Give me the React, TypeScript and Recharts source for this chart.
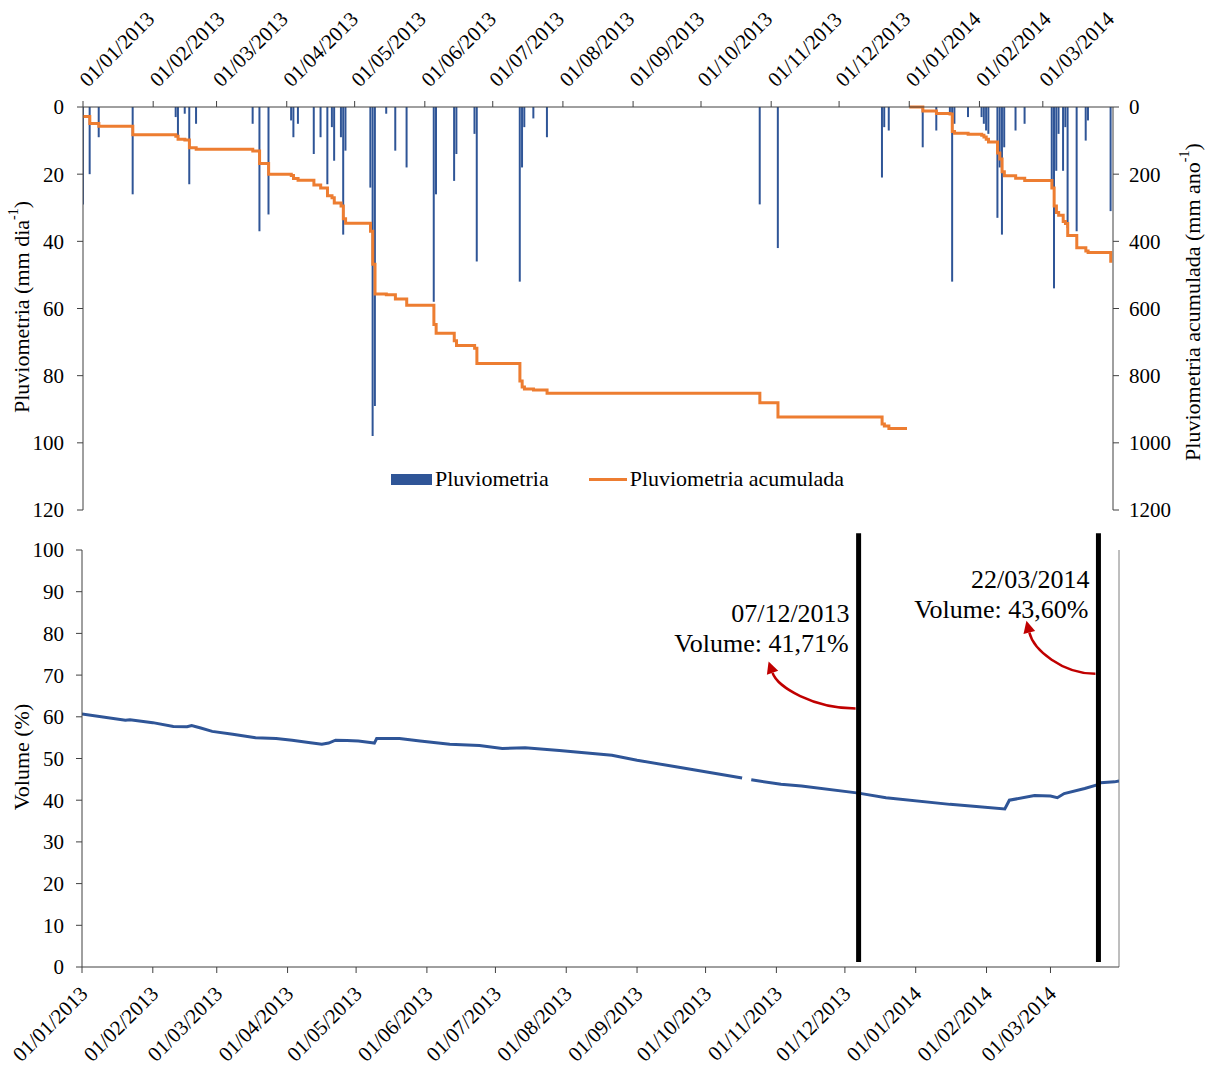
import {
  Bar,
  ComposedChart,
  Legend,
  Line,
  LineChart,
  ReferenceDot,
  ReferenceLine,
  XAxis,
  YAxis,
} from 'recharts';

const FONT = '"Liberation Serif", "Times New Roman", Times, serif';
const BLUE = '#2F5597';
const ORANGE = '#ED7D31';
const RED = '#C00000';
const AXIS = '#404040';

// month ticks shared by both panels
const MONTH_TICKS = [
  '2013-01-01', '2013-02-01', '2013-03-01', '2013-04-01', '2013-05-01', '2013-06-01', '2013-07-01', '2013-08-01',
  '2013-09-01', '2013-10-01', '2013-11-01', '2013-12-01', '2014-01-01', '2014-02-01', '2014-03-01',
];

const RAIN_TICKS = [0, 20, 40, 60, 80, 100, 120];
const ACC_TICKS = [0, 200, 400, 600, 800, 1000, 1200];
const VOLUME_TICKS = [0, 10, 20, 30, 40, 50, 60, 70, 80, 90, 100];

// daily rainfall (mm dia-1), only rainy days
const RAIN_2013: [string, number][] = [
  ['2013-01-01', 29], ['2013-01-04', 20], ['2013-01-08', 9], ['2013-01-23', 26],
  ['2013-02-11', 3], ['2013-02-12', 9], ['2013-02-15', 2], ['2013-02-17', 23], ['2013-02-20', 5],
  ['2013-03-17', 5], ['2013-03-20', 37], ['2013-03-24', 32],
  ['2013-04-03', 4], ['2013-04-04', 9], ['2013-04-06', 5], ['2013-04-13', 14], ['2013-04-16', 9],
  ['2013-04-19', 23], ['2013-04-21', 6], ['2013-04-22', 16], ['2013-04-25', 9], ['2013-04-26', 38], ['2013-04-27', 13],
  ['2013-05-08', 24], ['2013-05-09', 98], ['2013-05-10', 89], ['2013-05-15', 2], ['2013-05-19', 13], ['2013-05-24', 18],
  ['2013-06-05', 58], ['2013-06-06', 26], ['2013-06-14', 22], ['2013-06-15', 14], ['2013-06-23', 8], ['2013-06-24', 46],
  ['2013-07-13', 52], ['2013-07-14', 18], ['2013-07-15', 6], ['2013-07-19', 3.4], ['2013-07-25', 9],
  ['2013-10-27', 29], ['2013-11-04', 42],
  ['2013-12-20', 21], ['2013-12-21', 6], ['2013-12-23', 7],
];

const RAIN_2014: [string, number][] = [
  ['2014-01-07', 12], ['2014-01-13', 7], ['2014-01-19', 2], ['2014-01-20', 52], ['2014-01-21', 5], ['2014-01-27', 3],
  ['2014-02-02', 3], ['2014-02-03', 5], ['2014-02-04', 7], ['2014-02-05', 8],
  ['2014-02-09', 33], ['2014-02-10', 18], ['2014-02-11', 38], ['2014-02-12', 12], ['2014-02-17', 7], ['2014-02-21', 5],
  ['2014-03-05', 22], ['2014-03-06', 54], ['2014-03-07', 19], ['2014-03-08', 8], ['2014-03-10', 19], ['2014-03-11', 6],
  ['2014-03-12', 36], ['2014-03-16', 37], ['2014-03-20', 10], ['2014-03-21', 4], ['2014-03-31', 31],
];

// accumulated rainfall (mm ano-1), read at each step
const ACC_2013: [string, number][] = [
  ['2013-01-01', 28], ['2013-01-04', 49], ['2013-01-08', 57], ['2013-01-23', 83],
  ['2013-02-11', 87], ['2013-02-12', 96], ['2013-02-15', 98], ['2013-02-17', 121], ['2013-02-20', 126],
  ['2013-03-17', 131], ['2013-03-20', 168], ['2013-03-24', 200],
  ['2013-04-03', 204], ['2013-04-04', 213], ['2013-04-06', 218], ['2013-04-13', 232], ['2013-04-16', 241],
  ['2013-04-19', 264], ['2013-04-21', 270], ['2013-04-22', 286], ['2013-04-25', 295], ['2013-04-26', 333], ['2013-04-27', 346],
  ['2013-05-08', 370], ['2013-05-09', 468], ['2013-05-10', 557], ['2013-05-15', 559], ['2013-05-19', 572], ['2013-05-24', 590],
  ['2013-06-05', 648], ['2013-06-06', 674], ['2013-06-14', 696], ['2013-06-15', 710], ['2013-06-23', 718], ['2013-06-24', 764],
  ['2013-07-13', 816], ['2013-07-14', 834], ['2013-07-15', 840], ['2013-07-19', 843], ['2013-07-25', 852],
  ['2013-10-27', 881], ['2013-11-04', 923],
  ['2013-12-20', 944], ['2013-12-21', 950], ['2013-12-23', 957], ['2013-12-31', 957],
];

const ACC_2014: [string, number][] = [
  ['2014-01-01', 0], ['2014-01-07', 12], ['2014-01-13', 19], ['2014-01-19', 21], ['2014-01-20', 73], ['2014-01-21', 78],
  ['2014-01-27', 81], ['2014-02-02', 84], ['2014-02-03', 89], ['2014-02-04', 96], ['2014-02-05', 104],
  ['2014-02-09', 137], ['2014-02-10', 155], ['2014-02-11', 193], ['2014-02-12', 205], ['2014-02-17', 212], ['2014-02-21', 219],
  ['2014-03-05', 241], ['2014-03-06', 295], ['2014-03-07', 314], ['2014-03-08', 322], ['2014-03-10', 341], ['2014-03-11', 347],
  ['2014-03-12', 383], ['2014-03-16', 419], ['2014-03-20', 429], ['2014-03-21', 433], ['2014-03-31', 464],
];

// reservoir volume (%), null = missing record
const VOLUME: [string, number | null][] = [
  ['2013-01-01', 60.7], ['2013-01-20', 59.2], ['2013-01-22', 59.3], ['2013-02-01', 58.6], ['2013-02-10', 57.7],
  ['2013-02-16', 57.6], ['2013-02-18', 57.9], ['2013-02-22', 57.3], ['2013-02-27', 56.5], ['2013-03-08', 55.8],
  ['2013-03-18', 55.0], ['2013-03-27', 54.8], ['2013-04-03', 54.4], ['2013-04-11', 53.8], ['2013-04-16', 53.4],
  ['2013-04-19', 53.7], ['2013-04-22', 54.4], ['2013-04-27', 54.3], ['2013-05-02', 54.2], ['2013-05-08', 53.8],
  ['2013-05-09', 53.7], ['2013-05-10', 54.8], ['2013-05-20', 54.8], ['2013-05-29', 54.2], ['2013-06-11', 53.4],
  ['2013-06-24', 53.1], ['2013-07-04', 52.4], ['2013-07-14', 52.6], ['2013-07-29', 51.9], ['2013-08-21', 50.8],
  ['2013-09-01', 49.6], ['2013-09-18', 48.0], ['2013-10-17', 45.3], ['2013-10-19', null], ['2013-10-21', 44.9],
  ['2013-11-03', 43.8], ['2013-11-12', 43.4], ['2013-12-07', 41.7], ['2013-12-19', 40.6], ['2014-01-16', 39.0],
  ['2014-01-25', 38.6], ['2014-02-09', 37.9], ['2014-02-11', 40.0], ['2014-02-22', 41.1], ['2014-03-01', 41.0],
  ['2014-03-04', 40.6], ['2014-03-07', 41.6], ['2014-03-16', 42.8], ['2014-03-21', 43.6], ['2014-03-23', 44.2],
  ['2014-03-29', 44.4], ['2014-03-31', 44.6],
];

const EVENT_DATES = ['2013-12-07', '2014-03-22'];
const EVENT_VOLUMES = [41.71, 43.6];

const T0 = Date.UTC(2013, 0, 1);
const DAY = 86400000;
const dayOf = (iso: string) => {
  const [y, m, d] = iso.split('-').map(Number);
  return Math.round((Date.UTC(y, m - 1, d) - T0) / DAY);
};
const fmtDay = (day: number) => {
  const dt = new Date(T0 + day * DAY);
  const dd = String(dt.getUTCDate()).padStart(2, '0');
  const mm = String(dt.getUTCMonth() + 1).padStart(2, '0');
  return `${dd}/${mm}/${dt.getUTCFullYear()}`;
};

const tickDays = MONTH_TICKS.map(dayOf);
const rainRows = [...RAIN_2013, ...RAIN_2014].map(([d, mm]) => ({ day: dayOf(d), rain: mm }));
const acc2013Rows = ACC_2013.map(([d, v]) => ({ day: dayOf(d), acc: v }));
const acc2014Rows = ACC_2014.map(([d, v]) => ({ day: dayOf(d), acc: v }));
const volumeRows = VOLUME.map(([d, v]) => ({ day: dayOf(d), volume: v }));
const events = EVENT_DATES.map((d, i) => ({
  day: dayOf(d),
  title: fmtDay(dayOf(d)),
  subtitle: `Volume: ${EVENT_VOLUMES[i].toFixed(2).replace('.', ',')}%`,
}));

// arrow anchor height on the marker line and arrow tip offset, per event
const ARROW_AT = [62, 70.3];
const ARROW_TIP: [number, number][] = [[-90, -47], [-72, -53]];

const TICK_TEXT = { fontSize: 21, fill: '#000', fontFamily: FONT };

function TopTick(props: any) {
  const { x, y, payload } = props;
  const px = x + 5;
  const py = y - 11;
  return (
    <text x={px} y={py} transform={`rotate(-45 ${px} ${py})`} textAnchor="start" {...TICK_TEXT}>
      {fmtDay(payload.value)}
    </text>
  );
}

function BottomTick(props: any) {
  const { x, y, payload } = props;
  const px = x + 7;
  const py = y + 20;
  return (
    <text x={px} y={py} transform={`rotate(-45 ${px} ${py})`} textAnchor="end" {...TICK_TEXT}>
      {fmtDay(payload.value)}
    </text>
  );
}

function VTitle({ cx, cy, main, sup, tail }: { cx: number; cy: number; main: string; sup?: string; tail?: string }) {
  return (
    <text
      x={cx}
      y={cy}
      transform={`rotate(-90 ${cx} ${cy})`}
      textAnchor="middle"
      dominantBaseline="central"
      fontSize={22}
      fontFamily={FONT}
      fill="#000"
    >
      <tspan>{main}</tspan>
      {sup && (
        <tspan dy={-8} fontSize={14}>
          {sup}
        </tspan>
      )}
      {tail && <tspan dy={sup ? 8 : 0}>{tail}</tspan>}
    </text>
  );
}

function Callout(props: any) {
  const { cx, cy, title, subtitle, tip } = props;
  if (cx == null || cy == null) return null;
  const [tx, ty] = tip as [number, number];
  const c2x = tx * 0.9;
  const c2y = ty * 0.45;
  const len = Math.hypot(tx - c2x, ty - c2y);
  const ux = (tx - c2x) / len;
  const uy = (ty - c2y) / len;
  const ex = tx - ux * 12;
  const ey = ty - uy * 12;
  const p1 = `${ex - uy * 6},${ey + ux * 6}`;
  const p2 = `${ex + uy * 6},${ey - ux * 6}`;
  return (
    <g transform={`translate(${cx},${cy})`}>
      <path d={`M -3 0 C ${tx * 0.5} 0 ${c2x} ${c2y} ${ex} ${ey}`} fill="none" stroke={RED} strokeWidth={2.5} />
      <polygon points={`${tx},${ty} ${p1} ${p2}`} fill={RED} />
      <text x={-9} y={-86} textAnchor="end" fontSize={26} fontFamily={FONT} fill="#000">
        {title}
      </text>
      <text x={-10} y={-56} textAnchor="end" fontSize={26} fontFamily={FONT} fill="#000">
        {subtitle}
      </text>
    </g>
  );
}

function RainLegend() {
  return (
    <div style={{ display: 'flex', alignItems: 'center', fontFamily: FONT, fontSize: 22, color: '#000', whiteSpace: 'nowrap' }}>
      <span style={{ display: 'inline-block', width: 41, height: 11, background: BLUE, marginRight: 3 }} />
      <span>Pluviometria</span>
      <span style={{ display: 'inline-block', width: 38, height: 3, background: ORANGE, marginLeft: 40, marginRight: 3 }} />
      <span>Pluviometria acumulada</span>
    </div>
  );
}

export default function App() {
  return (
    <div style={{ position: 'absolute', left: 0, top: 0, width: 1213, height: 1070, background: '#fff' }}>
      <div style={{ position: 'absolute', left: 0, top: 0 }}>
        <ComposedChart width={1213} height={530} data={rainRows} margin={{ top: 7, right: 0, bottom: 20, left: 0 }}>
          <XAxis
            type="number"
            dataKey="day"
            orientation="top"
            domain={[0, 455]}
            ticks={tickDays}
            interval={0}
            height={100}
            allowDataOverflow
            tick={(p: any) => <TopTick {...p} />}
            tickLine={{ stroke: AXIS }}
            axisLine={{ stroke: AXIS }}
          />
          <YAxis
            yAxisId="rain"
            domain={[0, 120]}
            ticks={RAIN_TICKS}
            reversed
            width={83}
            interval={0}
            tick={TICK_TEXT}
            tickMargin={13}
            tickLine={{ stroke: AXIS }}
            axisLine={{ stroke: AXIS }}
            label={() => <VTitle cx={21} cy={307} main="Pluviometria (mm dia" sup="-1" tail=")" />}
          />
          <YAxis
            yAxisId="acc"
            orientation="right"
            domain={[0, 1200]}
            ticks={ACC_TICKS}
            reversed
            width={100}
            interval={0}
            tick={TICK_TEXT}
            tickMargin={10}
            tickLine={{ stroke: AXIS }}
            axisLine={{ stroke: AXIS }}
            label={() => (
              <VTitle cx={1192} cy={302} main="Pluviometria acumulada (mm ano" sup="-1" tail=")" />
            )}
          />
          <Legend
            layout="horizontal"
            verticalAlign="middle"
            align="center"
            wrapperStyle={{ top: 466, left: 391, width: 'auto', height: 'auto' }}
            content={() => <RainLegend />}
          />
          <Bar yAxisId="rain" dataKey="rain" fill={BLUE} barSize={2} isAnimationActive={false} />
          <Line
            yAxisId="acc"
            data={acc2013Rows}
            dataKey="acc"
            type="stepAfter"
            stroke={ORANGE}
            strokeWidth={3}
            dot={false}
            isAnimationActive={false}
          />
          <Line
            yAxisId="acc"
            data={acc2014Rows}
            dataKey="acc"
            type="stepAfter"
            stroke={ORANGE}
            strokeWidth={3}
            dot={false}
            isAnimationActive={false}
          />
        </ComposedChart>
      </div>
      <div style={{ position: 'absolute', left: 0, top: 528 }}>
        <LineChart width={1213} height={542} data={volumeRows} margin={{ top: 22, right: 94, bottom: 0, left: 0 }}>
          <XAxis
            type="number"
            dataKey="day"
            domain={[0, 454]}
            ticks={tickDays}
            interval={0}
            height={103}
            allowDataOverflow
            tick={(p: any) => <BottomTick {...p} />}
            tickLine={{ stroke: AXIS }}
            axisLine={{ stroke: AXIS }}
          />
          <YAxis
            domain={[0, 100]}
            ticks={VOLUME_TICKS}
            width={82}
            interval={0}
            tick={TICK_TEXT}
            tickMargin={12}
            tickLine={{ stroke: AXIS }}
            axisLine={{ stroke: AXIS }}
            label={() => <VTitle cx={21} cy={229} main="Volume (%)" />}
          />
          <ReferenceLine x={454} stroke="#7f7f7f" strokeWidth={1} />
          <Line
            dataKey="volume"
            stroke={BLUE}
            strokeWidth={3}
            dot={false}
            connectNulls={false}
            isAnimationActive={false}
          />
          {events.map((ev) => (
            <ReferenceLine
              key={`line-${ev.day}`}
              segment={[
                { x: ev.day, y: 1.2 },
                { x: ev.day, y: 104 },
              ]}
              ifOverflow="visible"
              stroke="#000"
              strokeWidth={5}
            />
          ))}
          {events.map((ev, i) => (
            <ReferenceDot
              key={`dot-${ev.day}`}
              x={ev.day}
              y={ARROW_AT[i]}
              r={0}
              ifOverflow="visible"
              shape={(p: any) => <Callout {...p} title={ev.title} subtitle={ev.subtitle} tip={ARROW_TIP[i]} />}
            />
          ))}
        </LineChart>
      </div>
    </div>
  );
}
